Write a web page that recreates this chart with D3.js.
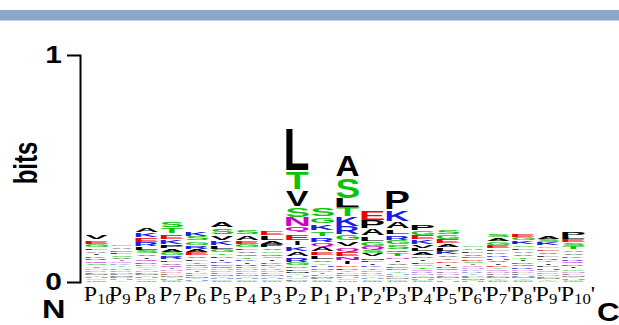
<!DOCTYPE html>
<html><head><meta charset="utf-8">
<script src="https://cdn.jsdelivr.net/npm/d3@7"></script>
<style>body{margin:0;background:#fff}</style>
</head><body><svg id="c" width="619" height="325"></svg>
<script>
// Position labels (N -> C)
const positions = ["P10","P9","P8","P7","P6","P5","P4","P3","P2","P1","P1'","P2'","P3'","P4'","P5'","P6'","P7'","P8'","P9'","P10'"];
// Letters of each stack, listed top -> bottom
const columnLetters = [
  "VEGLAIKRQSTNDFMYHCW",
  "GAELSVIQKTRDNFMPHY",
  "AKERLSVIQDPGTNFMYHCW",
  "STEKPAGRLVQINDFMYHCW",
  "KSGRAEVLTQNDIPFMYHC",
  "ASVKLGTPIREQNDFMYHCW",
  "SAEGLVQTKIRPNDFMYHCW",
  "ELAPVGQSIKDTRNFMYHCW",
  "LTVSNQEIKARGDFMYHCPW",
  "SGKTRQAELVYHNDIFMPCW",
  "ASLTKRGVQENIDPYFMHCW",
  "EPALGQSVMFIKTDRNYHCW",
  "PKALRGSQTNIVEDYHFMCW",
  "PGEKVLADIFSTQRNYMHCW",
  "SGEALKVTDIRQPNFMYH",
  "GALVEDSIQNKRTPFMYH",
  "SAGELKRHVIDTQNPFMYCW",
  "EGKSLAVTIDQRNPFHMYCW",
  "ASKGEVLRTIPHQDNFMYC",
  "PLESTAVKRQDIGNFMYHCW"
];
// Letter heights in bits, same order as columnLetters
const columnBits = [
  [.020,.018,.015,.013,.013,.011,.011,.011,.011,.011,.011,.009,.009,.007,.007,.007,.007,.007,.007],
  [.013,.013,.011,.011,.011,.011,.009,.009,.009,.009,.009,.009,.009,.007,.007,.007,.007,.007],
  [.026,.022,.022,.020,.015,.015,.013,.011,.011,.011,.009,.009,.009,.009,.007,.007,.007,.007,.007,.007],
  [.029,.029,.022,.022,.018,.018,.015,.015,.013,.013,.011,.009,.009,.009,.007,.007,.007,.007,.004,.004],
  [.020,.020,.018,.018,.015,.015,.013,.011,.011,.011,.009,.009,.009,.009,.007,.007,.007,.007,.004],
  [.031,.029,.026,.020,.018,.015,.013,.013,.011,.011,.011,.011,.009,.009,.009,.007,.007,.007,.007,.004],
  [.022,.022,.018,.015,.013,.013,.013,.011,.011,.011,.011,.009,.009,.009,.009,.007,.007,.007,.007,.004],
  [.024,.020,.018,.015,.013,.013,.011,.011,.011,.011,.011,.009,.009,.009,.009,.007,.007,.007,.007,.004],
  [.198,.079,.075,.046,.040,.033,.031,.024,.024,.024,.024,.015,.013,.011,.011,.009,.009,.007,.007,.004],
  [.040,.035,.029,.026,.026,.020,.020,.018,.015,.013,.013,.011,.011,.009,.009,.009,.007,.007,.007,.004],
  [.101,.097,.040,.040,.040,.037,.031,.026,.022,.020,.018,.015,.013,.013,.011,.009,.009,.009,.007,.007],
  [.040,.037,.035,.022,.022,.018,.015,.015,.013,.011,.011,.011,.011,.009,.009,.009,.007,.007,.007,.004],
  [.084,.048,.035,.026,.022,.022,.020,.015,.015,.013,.013,.013,.013,.011,.011,.009,.009,.009,.007,.004],
  [.031,.020,.020,.020,.018,.015,.015,.013,.013,.013,.011,.011,.009,.009,.009,.007,.007,.007,.004,.004],
  [.022,.020,.020,.018,.015,.015,.013,.013,.013,.011,.011,.011,.009,.009,.009,.007,.007,.007],
  [.013,.013,.013,.011,.011,.011,.011,.009,.009,.009,.009,.009,.007,.007,.007,.007,.004,.004],
  [.018,.018,.015,.015,.013,.013,.013,.011,.011,.011,.011,.009,.009,.009,.007,.007,.007,.007,.004,.004],
  [.018,.015,.015,.013,.013,.013,.013,.013,.011,.011,.011,.011,.009,.009,.009,.007,.007,.007,.004,.004],
  [.018,.015,.015,.013,.013,.013,.013,.011,.011,.011,.011,.011,.009,.009,.009,.007,.007,.007,.004],
  [.020,.015,.015,.015,.015,.013,.013,.013,.011,.011,.011,.011,.011,.009,.009,.007,.007,.007,.004,.004]
];
const yTicks = [0, 1];
const endLabels = ["N", "C"];
const yTitle = "bits";

// colour scheme (chemistry)
const letterGroups = [
  ["GSTYC", "#0bc40b"],
  ["NQ", "#cc00cc"],
  ["KRH", "#1c1ce6"],
  ["DE", "#f00000"],
  ["PAWFLIMV", "#000000"]
];
function colorOf(ch) {
  for (const [s, c] of letterGroups) if (s.includes(ch)) return c;
  return "#000";
}

const svg = d3.select("#c");
svg.append("rect").attr("x", 0).attr("y", 10).attr("width", 619).attr("height", 10.5).attr("fill", "#8ca5cb");

const x = d3.scaleBand().domain(d3.range(positions.length)).range([84, 586]).paddingInner(0.1).paddingOuter(0.05);
const y = d3.scaleLinear().domain([0, 1]).range([282, 55]);

// glyph ink metrics
const ctx = document.createElement("canvas").getContext("2d");
const FONT = "'Liberation Sans', Arial, sans-serif";
ctx.font = "bold 100px " + FONT;
const metricsCache = {};
function met(ch) {
  if (!metricsCache[ch]) {
    const t = ctx.measureText(ch);
    metricsCache[ch] = {L: t.actualBoundingBoxLeft, R: t.actualBoundingBoxRight, A: t.actualBoundingBoxAscent, D: t.actualBoundingBoxDescent};
  }
  return metricsCache[ch];
}

const logo = svg.append("g");
columnLetters.forEach((letters, i) => {
  const bits = columnBits[i];
  const items = letters.split("").map((ch, k) => ({ch, v: bits[k]})).reverse();
  let cum = 0;
  const g = logo.append("g");
  items.forEach(it => {
    const yb = y(cum), yt = y(cum + it.v);
    cum += it.v;
    const h = yb - yt;
    const frac = h > 8 ? 0.92 : (h > 3.5 ? 0.72 : 0.55);
    const hh = h * frac, top = yt + h * (1 - frac) / 2;
    const mm = met(it.ch);
    let bw = x.bandwidth(), bx = x(i);
    if (it.ch === "I") { const nw = bw * 0.2; bx += (bw - nw) / 2; bw = nw; }
    const sx = bw / (mm.L + mm.R), sy = hh / (mm.A + mm.D);
    g.append("text").text(it.ch)
      .attr("font-family", FONT).attr("font-weight", "bold").attr("font-size", 100)
      .attr("fill", colorOf(it.ch))
      .attr("fill-opacity", h < 2.2 ? 0.45 : (h < 3.2 ? 0.75 : 1))
      .attr("transform", `translate(${bx},${top}) scale(${sx},${sy}) translate(${mm.L},${mm.A})`);
  });
});

// y axis
const axis = d3.axisLeft(y).tickValues(yTicks).tickSizeInner(13).tickSizeOuter(0).tickFormat(d3.format("d"));
const ag = svg.append("g").attr("transform", "translate(80,0)").call(axis);
ag.select(".domain").attr("stroke", "#000").attr("stroke-width", 2).attr("stroke-linecap", "square");
ag.selectAll(".tick line").attr("stroke", "#000").attr("stroke-width", 2);
ag.selectAll(".tick text")
  .attr("font-family", FONT).attr("font-weight", "bold").attr("font-size", 23).attr("fill", "#000")
  .attr("x", -14).attr("transform", "scale(1.3,1)");

// y title
svg.append("text").text(yTitle)
  .attr("transform", "translate(37,163) scale(1.4,1) rotate(-90)")
  .attr("text-anchor", "middle").attr("font-family", FONT).attr("font-weight", "bold").attr("font-size", 24);

// position labels
positions.forEach((p, i) => {
  const num = p.replace(/[P']/g, "");
  const prime = p.endsWith("'");
  const t = svg.append("text")
    .attr("transform", `translate(${x(i) - 1.5},301) scale(1.2,1)`)
    .attr("font-family", "'Liberation Serif', 'Times New Roman', serif").attr("font-size", 20).attr("fill", "#000");
  t.append("tspan").text("P");
  t.append("tspan").text(num).attr("font-size", 14).attr("dy", 3);
  if (prime) t.append("tspan").text("'").attr("font-size", 20).attr("dy", -3);
});

// N / C terminus labels
svg.append("text").text(endLabels[0]).attr("transform", "translate(42,318) scale(1.3,1)")
  .attr("font-family", FONT).attr("font-weight", "bold").attr("font-size", 25);
svg.append("text").text(endLabels[1]).attr("transform", "translate(597,321) scale(1.25,1)")
  .attr("font-family", FONT).attr("font-weight", "bold").attr("font-size", 25);
</script>
</body></html>
